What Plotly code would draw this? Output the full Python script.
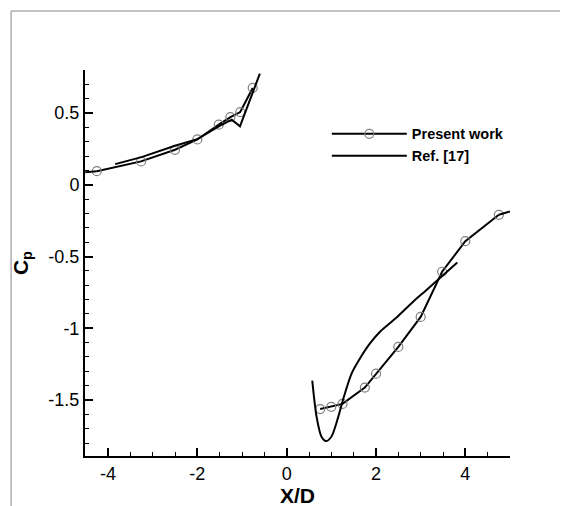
import plotly.graph_objects as go

# Present work (circles)
pw_up_x = [-4.25, -3.26, -2.50, -2.00, -1.52, -1.26, -1.04, -0.76]
pw_up_y = [0.095, 0.163, 0.244, 0.316, 0.419, 0.472, 0.507, 0.675]
pw_dn_x = [0.75, 1.00, 1.25, 1.75, 2.00, 2.50, 3.00, 3.48, 4.00, 4.75]
pw_dn_y = [-1.563, -1.547, -1.527, -1.413, -1.316, -1.130, -0.921, -0.606, -0.393, -0.209]
# line-only extension of Present work curve
pw_ext_up_x = [-4.51, -4.25]
pw_ext_up_y = [0.088, 0.095]
pw_ext_dn_x = [4.75, 5.0]
pw_ext_dn_y = [-0.209, -0.186]

# Ref. [17]
ref_up_x = [-3.84, -3.25, -2.50, -2.00, -1.50, -1.23, -1.045, -0.60]
ref_up_y = [0.144, 0.193, 0.272, 0.318, 0.410, 0.454, 0.407, 0.775]
ref_dn_x = [0.573, 0.67, 0.78, 0.88, 1.00, 1.155, 1.27, 1.455, 1.64, 1.865, 2.09, 2.46, 2.83, 3.13, 3.82]
ref_dn_y = [-1.365, -1.617, -1.756, -1.786, -1.756, -1.617, -1.489, -1.314, -1.21, -1.105, -1.024, -0.925, -0.815, -0.733, -0.542]

# tick labels
x_tickvals = [-4, -2, 0, 2, 4]
x_ticktext = ["-4", "-2", "0", "2", "4"]
y_tickvals = [-1.5, -1.0, -0.5, 0.0, 0.5]
y_ticktext = ["-1.5", "-1", "-0.5", "0", "0.5"]

FONT = "Arial, Liberation Sans, sans-serif"
line_style = dict(color="black", width=2)
marker_style = dict(symbol="circle-open", size=9, color="#808080", line=dict(width=1.2, color="#808080"))

fig = go.Figure()
fig.add_trace(go.Scatter(x=pw_up_x + [None] + pw_dn_x, y=pw_up_y + [None] + pw_dn_y,
                         mode="lines+markers", name="Present work",
                         line=line_style, marker=marker_style, connectgaps=False))
fig.add_trace(go.Scatter(x=ref_up_x, y=ref_up_y,
                         mode="lines", name="Ref. [17]", line=line_style))
fig.add_trace(go.Scatter(x=ref_dn_x, y=ref_dn_y, mode="lines", showlegend=False,
                         line=dict(color="black", width=2, shape="spline", smoothing=0.8)))
fig.add_trace(go.Scatter(x=pw_ext_up_x + [None] + pw_ext_dn_x, y=pw_ext_up_y + [None] + pw_ext_dn_y,
                         mode="lines", line=line_style, showlegend=False, connectgaps=False))

axis_common = dict(showline=True, linecolor="black", linewidth=2, ticks="inside",
                   ticklen=8, tickwidth=2, tickcolor="black", showgrid=False, zeroline=False,
                   tickfont=dict(family=FONT, size=18, color="black"), mirror=False)

fig.update_xaxes(range=[-4.515, 5.0], tickmode="array", tickvals=x_tickvals, ticktext=x_ticktext,
                 minor=dict(ticks="inside", ticklen=4, tickwidth=1, dtick=0.5, tick0=0, tickcolor="black"),
                 title=dict(text="<b>X/D</b>", font=dict(family=FONT, size=21, color="black"), standoff=4),
                 **axis_common)
fig.update_yaxes(range=[-1.89, 0.8], tickmode="array", tickvals=y_tickvals, ticktext=y_ticktext,
                 minor=dict(ticks="inside", ticklen=4, tickwidth=1, dtick=0.1, tick0=0, tickcolor="black"),
                 title=dict(text="<b>C<sub>p</sub></b>", font=dict(family=FONT, size=21, color="black"), standoff=14),
                 **axis_common)

fig.update_layout(
    width=568, height=506,
    margin=dict(l=77, r=66, t=62, b=58),
    paper_bgcolor="white", plot_bgcolor="white",
    legend=dict(x=0.569, y=0.876, xanchor="left", yanchor="top",
                font=dict(family=FONT, size=14.5, color="black", weight="bold"),
                bgcolor="rgba(0,0,0,0)", itemwidth=75, tracegroupgap=0),
    shapes=[
        dict(type="line", xref="paper", yref="paper", x0=-0.174, x1=1.2, y0=1.1528, y1=1.1528,
             line=dict(color="#888888", width=1)),
        dict(type="line", xref="paper", yref="paper", x0=-0.174, x1=-0.174, y0=-0.2, y1=1.1528,
             line=dict(color="#888888", width=1)),
    ],
)

fig.write_html("out.html")
